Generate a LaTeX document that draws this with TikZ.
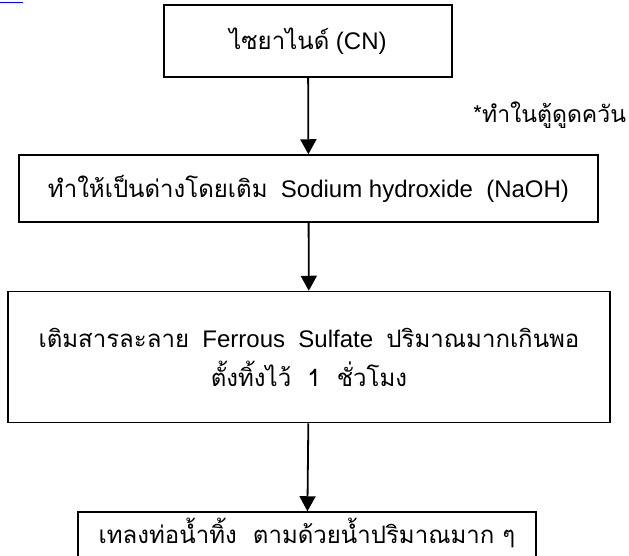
\documentclass[tikz,border=0pt]{standalone}
\usepackage{fontspec}
\setmainfont{Liberation Sans}
\newfontfamily\thai[Script=Thai]{Loma}
\usetikzlibrary{arrows.meta}
\begin{document}
\begin{tikzpicture}[x=1pt,y=-1pt,
  box/.style={draw,line width=1.5pt,inner sep=0pt,align=center,font=\fontsize{24}{29}\selectfont},
  txt/.style={inner sep=0pt,font=\fontsize{24}{29}\selectfont},
  flow/.style={line width=1.8pt,-{Triangle[width=16pt,length=15pt]}},
  note/.style={inner sep=0pt,font=\fontsize{23}{28}\selectfont}]
\useasboundingbox (0,0) rectangle (629,555);
\draw[blue,line width=1.2pt] (0,2.5) -- (23,2.5);
\node[box,minimum width=288pt,minimum height=72pt] (b1) at (308,41) {{\thai ไซยาไนด์} (CN)};
\node[box,minimum width=579pt,minimum height=67pt] (b2) at (308.5,188.5) {{\thai ทำให้เป็นด่างโดยเติม}~~Sodium hydroxide~~(NaOH)};
\node[box,minimum width=602pt,minimum height=131pt] (b3) at (309,357) {{\thai เติมสารละลาย}~~Ferrous~~Sulfate~~{\thai ปริมาณมากเกินพอ}\\[10pt]{\thai ตั้งทิ้งไว้~~1~~ชั่วโมง}};
\node[box,minimum width=458pt,minimum height=80pt] (b4) at (307,552) {};
\node[txt] (b4t) at (307,533) {{\thai เทลงท่อน้ำทิ้ง~~ตามด้วยน้ำปริมาณมาก ๆ}};
\node[note,anchor=base west] (n1) at (473,122) {{\thai *ทำในตู้ดูดควัน}};
\draw[flow] (b1) -- (b2);
\draw[flow] (b2) -- (b3);
\draw[flow] (b3) -- (b4);
\end{tikzpicture}
\end{document}
